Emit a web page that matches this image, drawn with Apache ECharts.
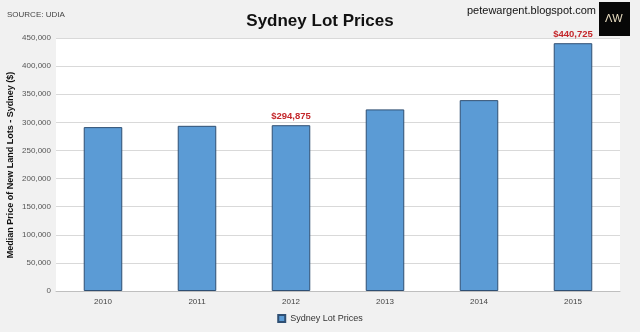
<!DOCTYPE html>
<html>
<head>
<meta charset="utf-8">
<script src="https://cdn.jsdelivr.net/npm/echarts@6/dist/echarts.min.js"></script>
<style>
  html, body { margin: 0; padding: 0; background: #f1f1f1; }
  #chart { width: 640px; height: 332px; }
</style>
</head>
<body>
<div id="chart"></div>
<script>
// Median price of new land lots in Sydney, by year
const years = ['2010', '2011', '2012', '2013', '2014', '2015'];
const lotPrices = [291500, 293800, 294875, 323000, 339500, 440725];
// Years whose bars carry a value label
const labelledYears = ['2012', '2015'];
const yTicks = { min: 0, max: 450000, interval: 50000 };
const yAxisTitle = 'Median Price of New Land Lots - Sydney ($)';

const fontFamily = 'Liberation Sans, Arial, sans-serif';
const fmt = v => v.toLocaleString('en-US');

const chart = echarts.init(document.getElementById('chart'), null, { renderer: 'canvas' });

const barData = lotPrices.map((v, i) => ({
  value: v,
  label: {
    show: labelledYears.includes(years[i]),
    position: 'top',
    distance: 4,
    formatter: p => '$' + fmt(p.value),
    color: '#c4272b',
    fontWeight: 'bold',
    fontSize: 9.5,
    fontFamily
  }
}));

chart.setOption({
  backgroundColor: '#f1f1f1',
  animation: false,
  title: {
    text: 'Sydney Lot Prices',
    left: 'center',
    top: 8,
    textStyle: { fontSize: 17, fontWeight: 'bold', color: '#111', fontFamily }
  },
  graphic: [
    { type: 'text', left: 7, top: 11,
      style: { text: 'SOURCE: UDIA', fontSize: 8, fill: '#444', fontFamily } },
    { type: 'text', right: 44, top: 5,
      style: { text: 'petewargent.blogspot.com', fontSize: 11, fill: '#111', fontFamily } },
    { type: 'rect', left: 599, top: 2, shape: { width: 31, height: 34 },
      style: { fill: '#070707' } },
    { type: 'text', left: 605, top: 13,
      style: { text: 'ΛW', fontSize: 11, fill: '#e8dcc0', fontFamily } },
    // vertical value-axis title
    { type: 'text', x: 11, y: 165, rotation: Math.PI / 2,
      style: { text: yAxisTitle, fontSize: 9, fontWeight: 'bold', fill: '#111',
               align: 'center', verticalAlign: 'middle', fontFamily } }
  ],
  legend: {
    bottom: 4,
    left: 'center',
    itemWidth: 7,
    itemHeight: 7,
    itemGap: 3,
    icon: 'rect',
    textStyle: { fontSize: 9, color: '#333', fontFamily },
    data: ['Sydney Lot Prices']
  },
  grid: {
    left: 56, right: 20, top: 38, bottom: 41,
    outerBoundsMode: 'none',
    containLabel: false,
    show: true,
    backgroundColor: '#ffffff',
    borderWidth: 0
  },
  xAxis: {
    type: 'category',
    data: years,
    axisLine: { lineStyle: { color: '#bfbfbf' } },
    axisTick: { show: false },
    axisLabel: { fontSize: 8, color: '#444', margin: 7, fontFamily }
  },
  yAxis: {
    type: 'value',
    min: yTicks.min,
    max: yTicks.max,
    interval: yTicks.interval,
    axisLine: { show: false },
    axisTick: { show: false },
    axisLabel: { fontSize: 8, color: '#555', margin: 5, formatter: v => fmt(v), fontFamily },
    splitLine: { lineStyle: { color: '#d9d9d9', width: 1 } }
  },
  series: [{
    name: 'Sydney Lot Prices',
    type: 'bar',
    data: barData,
    barWidth: '41%',
    itemStyle: { color: '#5b9bd5', borderColor: '#2f4f73', borderWidth: 1 }
  }]
});
</script>
</body>
</html>
